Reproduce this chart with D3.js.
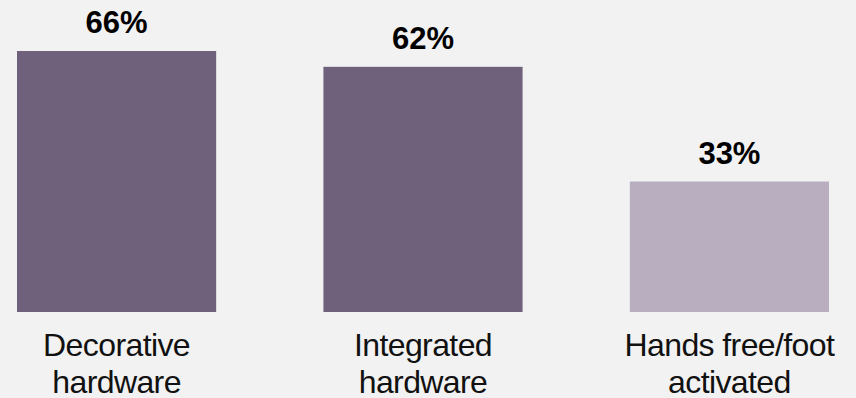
<!DOCTYPE html>
<html>
<head>
<meta charset="utf-8">
<script src="https://cdn.jsdelivr.net/npm/d3@7"></script>
<style>
	body { margin: 0; background: #f2f2f2; }
	svg { display: block; }
</style>
</head>
<body>
<svg id="chart" width="856" height="398"></svg>
<script>
// categories, split into the two lines shown under each bar
var categories = ["Decorative hardware", "Integrated hardware", "Hands free/foot activated"];
var categoryLines = [["Decorative", "hardware"], ["Integrated", "hardware"], ["Hands free/foot", "activated"]];
var values = [66, 62, 33];
var barColors = ["#6f607b", "#6f607b", "#b8aec0"];

var width = 856, height = 398;
var svg = d3.select("#chart");

svg.append("rect").attr("width", width).attr("height", height).attr("fill", "#f2f2f2");

var x = d3.scaleBand()
	.domain(categories)
	.range([17, 829])
	.paddingInner(0.35)
	.paddingOuter(0);

var y = d3.scaleLinear()
	.domain([0, d3.max(values)])
	.range([312, 51]);

var g = svg.append("g");

// bars
g.selectAll("rect.bar")
	.data(categories)
	.join("rect")
	.attr("class", "bar")
	.attr("x", d => x(d))
	.attr("width", x.bandwidth())
	.attr("y", (d, i) => y(values[i]))
	.attr("height", (d, i) => y(0) - y(values[i]))
	.attr("fill", (d, i) => barColors[i]);

// value labels above bars
g.selectAll("text.value")
	.data(categories)
	.join("text")
	.attr("class", "value")
	.attr("x", d => x(d) + x.bandwidth() / 2)
	.attr("y", (d, i) => y(values[i]) - 18)
	.attr("text-anchor", "middle")
	.attr("font-family", "Liberation Sans, Arial, sans-serif")
	.attr("font-weight", "bold")
	.attr("font-size", 31)
	.attr("fill", "#000")
	.text((d, i) => values[i] + "%");

// category labels below bars
var labels = g.selectAll("text.cat")
	.data(categories)
	.join("text")
	.attr("class", "cat")
	.attr("text-anchor", "middle")
	.attr("font-family", "Liberation Sans, Arial, sans-serif")
	.attr("font-size", 32)
	.attr("letter-spacing", -0.6)
	.attr("fill", "#111");

labels.each(function (d, i) {
	var t = d3.select(this);
	categoryLines[i].forEach(function (line, j) {
		t.append("tspan")
			.attr("x", x(d) + x.bandwidth() / 2)
			.attr("y", 356 + j * 37)
			.text(line);
	});
});
</script>
</body>
</html>
